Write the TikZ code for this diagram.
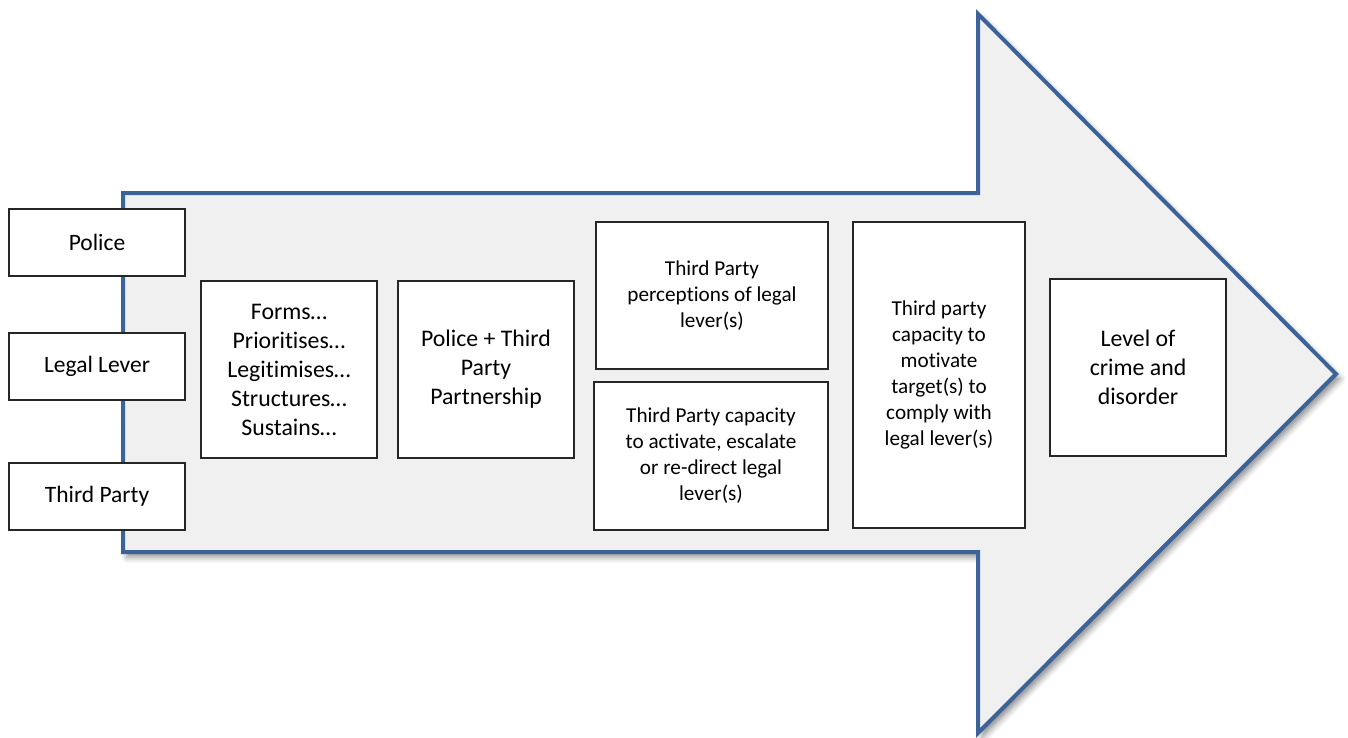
\documentclass[tikz,border=0pt]{standalone}
\usepackage{fontspec}
\setmainfont{Carlito}[Ligatures={NoCommon}]
\usetikzlibrary{shadows.blur}
\definecolor{arrowblue}{RGB}{59,99,152}
\definecolor{arrowfill}{RGB}{240,240,240}
\begin{document}
\begin{tikzpicture}[x=1pt,y=-1pt,
  bigarrow/.style={draw=arrowblue, line width=4pt, fill=arrowfill, line join=miter,
    blur shadow={shadow xshift=4pt, shadow yshift=-5pt, shadow blur radius=6pt, shadow opacity=45}},
  box/.style={draw=black!85, line width=1.1pt, fill=white, align=center, inner sep=2pt,
    font=\fontsize{23.5}{28}\selectfont},
  bigtext/.style={font=\fontsize{23.8}{29}\selectfont},
  smalltext/.style={font=\fontsize{21.2}{26}\selectfont}]
\useasboundingbox (0,0) rectangle (1348,738);

% the large process arrow
\draw[bigarrow] (123,193) -- (978,193) -- (978,14) -- (1336,374) -- (978,733)
  -- (978,552) -- (123,552) -- cycle;

% inputs
\node[box, minimum width=176pt, minimum height=67pt] (police) at (97,242.5) {Police};
\node[box, minimum width=176pt, minimum height=67pt] (lever) at (97,366.5) {Legal Lever};
\node[box, minimum width=176pt, minimum height=67pt] (third) at (97,496.5) {Third Party};

% stages
\node[box, bigtext, minimum width=176pt, minimum height=177pt] (forms) at (289,369.5)
  {Forms…\\Prioritises…\\Legitimises…\\Structures…\\Sustains…};
\node[box, bigtext, minimum width=176pt, minimum height=177pt] (partner) at (486,369.5)
  {Police + Third\\Party\\Partnership};
\node[box, smalltext, minimum width=232pt, minimum height=147pt] (percep) at (712,295.5)
  {Third Party\\perceptions of legal\\lever(s)};
\node[box, smalltext, minimum width=234pt, minimum height=148pt] (activate) at (711,456)
  {Third Party capacity\\to activate, escalate\\or re-direct legal\\lever(s)};
\node[box, smalltext, minimum width=172pt, minimum height=306pt] (motivate) at (939,375)
  {Third party\\capacity to\\motivate\\target(s) to\\comply with\\legal lever(s)};
\node[box, bigtext, minimum width=176pt, minimum height=177pt] (level) at (1138,367.5)
  {Level of\\crime and\\disorder};
\end{tikzpicture}
\end{document}
